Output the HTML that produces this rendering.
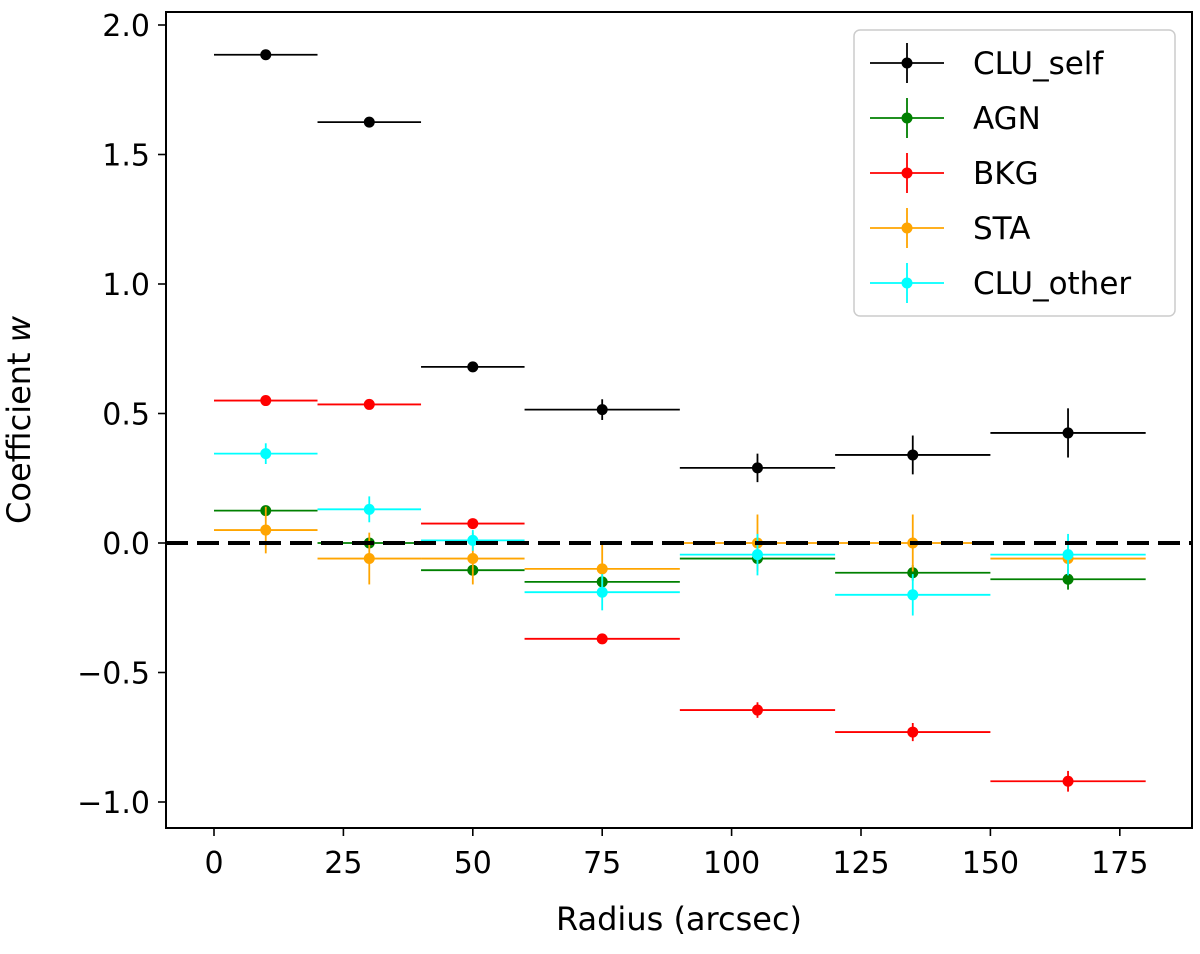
<!DOCTYPE html>
<html><head><meta charset="utf-8"><style>
html,body{margin:0;padding:0;background:#fff;}
svg{display:block;font-family:"DejaVu Sans","Liberation Sans",sans-serif;}
</style></head><body>
<svg id="chart" width="1200" height="954" viewBox="0 0 1200 954">
<g id="marks"></g>
<rect x="166" y="12" width="1026" height="816" fill="none" stroke="#000" stroke-width="2"/>
<g id="axes"></g>
<text x="679" y="930" font-size="32" text-anchor="middle">Radius (arcsec)</text>
<text transform="translate(30,420) rotate(-90)" font-size="32" text-anchor="middle">Coefficient <tspan font-style="italic">w</tspan></text>
<g id="legend"></g>
</svg>
<script>
const binLo=[0,20,40,60,90,120,150];
const binHi=[20,40,60,90,120,150,180];
const centers=[10,30,50,75,105,135,165];
const seriesNames=["CLU_self","AGN","BKG","STA","CLU_other"];
const seriesColors=["#000000","green","red","orange","cyan"];
const cluSelf=[1.885,1.625,0.68,0.515,0.29,0.34,0.425];
const cluSelfErr=[0.01,0.01,0.01,0.04,0.055,0.075,0.095];
const agn=[0.125,0.0,-0.105,-0.15,-0.06,-0.115,-0.14];
const agnErr=[0.02,0.02,0.02,0.02,0.03,0.03,0.04];
const bkg=[0.55,0.535,0.075,-0.37,-0.645,-0.73,-0.92];
const bkgErr=[0.01,0.01,0.01,0.02,0.03,0.035,0.04];
const sta=[0.05,-0.06,-0.06,-0.1,0.0,0.0,-0.06];
const staErr=[0.09,0.1,0.1,0.1,0.11,0.11,0.06];
const cluOther=[0.345,0.13,0.01,-0.19,-0.045,-0.2,-0.045];
const cluOtherErr=[0.04,0.05,0.04,0.07,0.08,0.08,0.08];
const xTicks=[0,25,50,75,100,125,150,175];
const yTicks=[-1.0,-0.5,0.0,0.5,1.0,1.5,2.0];
const yTickLabels=["\u22121.0","\u22120.5","0.0","0.5","1.0","1.5","2.0"];

const NS="http://www.w3.org/2000/svg";
const xs=v=>214+v*(129.4/25);
const ys=v=>543-v*(259/1.0);
function mk(tag,attrs,parent){const e=document.createElementNS(NS,tag);for(const k in attrs)e.setAttribute(k,attrs[k]);parent.appendChild(e);return e;}
const marks=document.getElementById('marks');
const allVals=[cluSelf,agn,bkg,sta,cluOther];
const allErr=[cluSelfErr,agnErr,bkgErr,staErr,cluOtherErr];
allVals.forEach((vals,s)=>{
  const g=mk('g',{},marks);
  
  
  vals.forEach((v,i)=>{
    const c=seriesColors[s];
    const h=mk('line',{x1:xs(binLo[i]),x2:xs(binHi[i]),y1:ys(v),y2:ys(v),stroke:c,'stroke-width':1.8},g);
    
    
    const ve=mk('line',{x1:xs(centers[i]),x2:xs(centers[i]),y1:ys(v-allErr[s][i]),y2:ys(v+allErr[s][i]),stroke:c,'stroke-width':1.8},g);
    
    
    const p=mk('circle',{cx:xs(centers[i]),cy:ys(v),r:5.5,fill:c},g);
    
    
  });
});
const zl=mk('line',{x1:166,x2:1192,y1:ys(0),y2:ys(0),stroke:'#000','stroke-width':4,'stroke-dasharray':'22,9'},marks);



const axes=document.getElementById('axes');
xTicks.forEach(t=>{
  const l=mk('line',{x1:xs(t),x2:xs(t),y1:828,y2:836,stroke:'#000','stroke-width':1.6},axes);
  
  
  const tx=mk('text',{x:xs(t),y:873,'font-size':30,'text-anchor':'middle'},axes);
  tx.textContent=t;
  
  
});
yTicks.forEach((t,i)=>{
  const l=mk('line',{x1:158,x2:166,y1:ys(t),y2:ys(t),stroke:'#000','stroke-width':1.6},axes);
  
  
  const tx=mk('text',{x:150,y:ys(t)+11,'font-size':30,'text-anchor':'end'},axes);
  tx.textContent=yTickLabels[i];
  
  
});

const lg=document.getElementById('legend');
const box=mk('rect',{x:854,y:30,width:321,height:286,rx:6,fill:'#fff','fill-opacity':0.85,stroke:'#ccc','stroke-width':1.5},lg);


seriesNames.forEach((n,i)=>{
  const y=63+i*55,c=seriesColors[i];
  const g=mk('g',{},lg);
  
  
  mk('line',{x1:870,x2:944,y1:y,y2:y,stroke:c,'stroke-width':1.8},g);
  mk('line',{x1:907,x2:907,y1:y-20,y2:y+20,stroke:c,'stroke-width':1.8},g);
  mk('circle',{cx:907,cy:y,r:5.5,fill:c},g);
  const t=mk('text',{x:973,y:y+11,'font-size':31},g);
  t.textContent=n;
});
</script>
</body></html>
